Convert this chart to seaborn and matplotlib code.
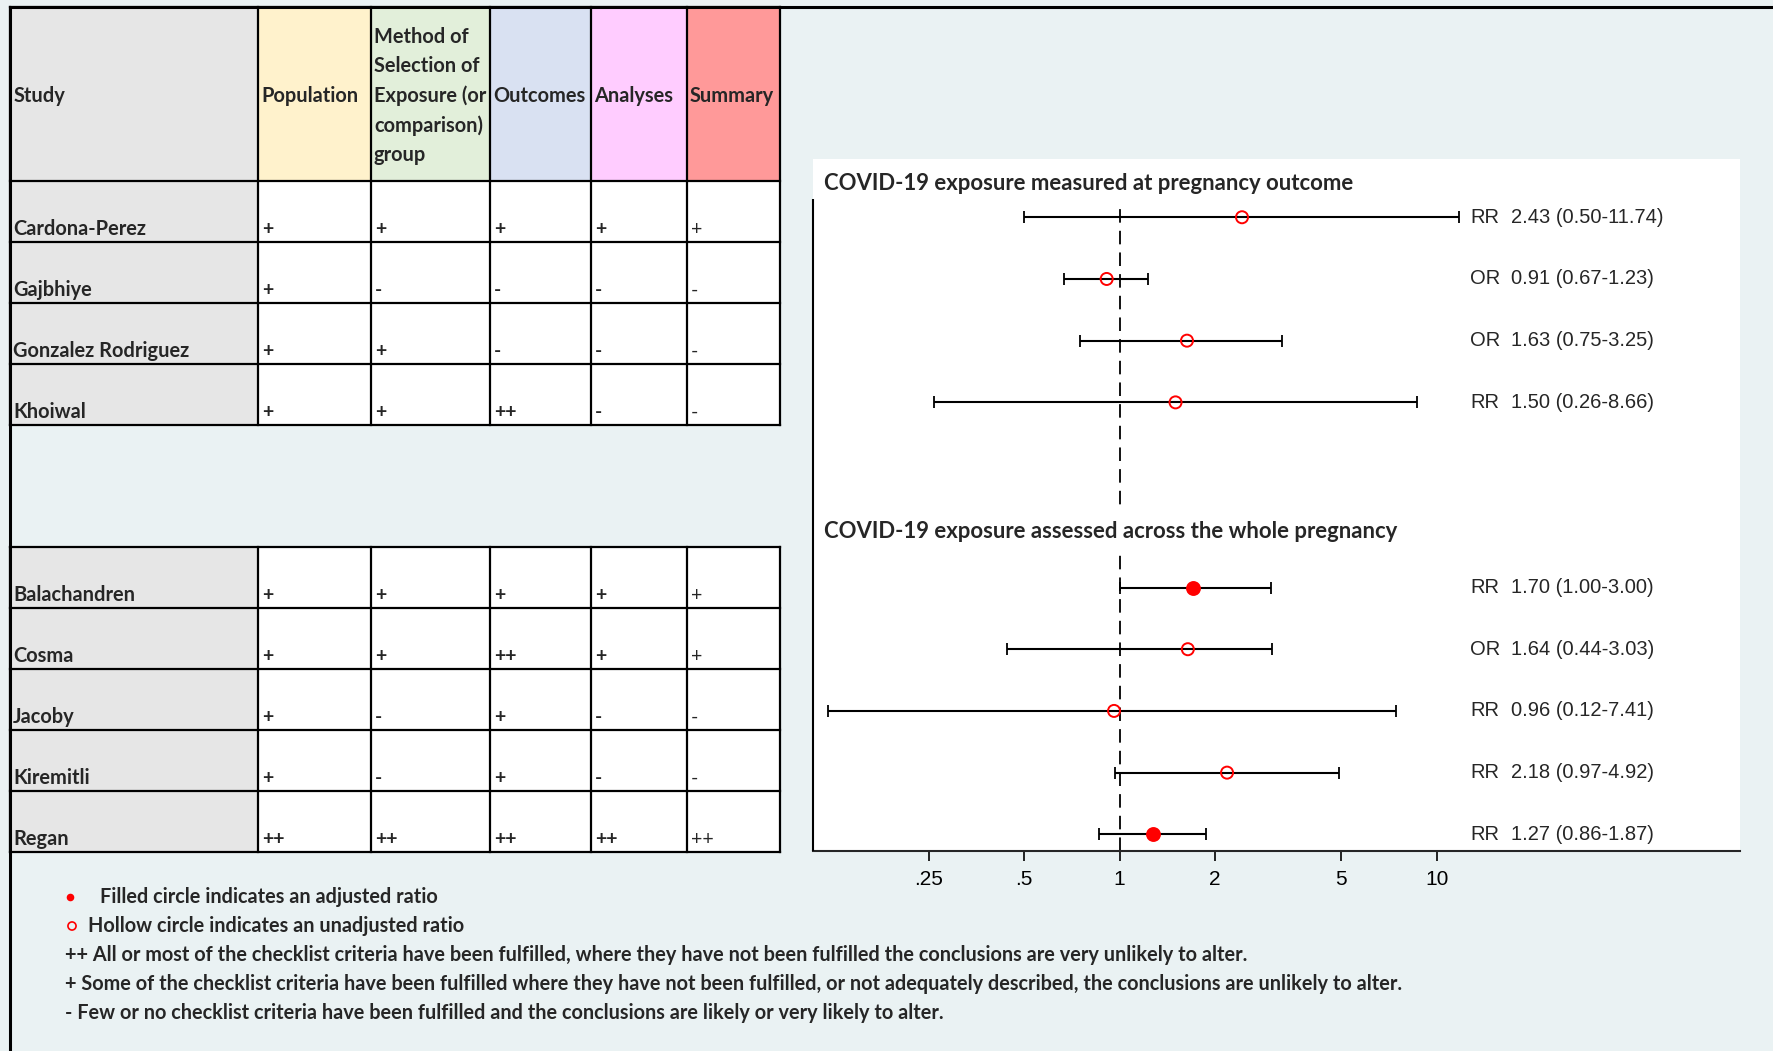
import numpy as np
import pandas as pd
import matplotlib
matplotlib.use("Agg")
import matplotlib.pyplot as plt
from matplotlib.patches import Rectangle
import seaborn as sns

# ---- quality-assessment table -------------------------------------------
studies_outcome = ["Cardona-Perez", "Gajbhiye", "Gonzalez Rodriguez", "Khoiwal"]
studies_whole = ["Balachandren", "Cosma", "Jacoby", "Kiremitli", "Regan"]
domains = ["Population",
           "Method of\nSelection of\nExposure (or\ncomparison)\ngroup",
           "Outcomes", "Analyses", "Summary"]
domain_colors = ["#FFF2CC", "#E2EFDA", "#D9E1F2", "#FFCCFF", "#FF9999"]

population = ["+", "+", "+", "+", "+", "+", "+", "+", "++"]
method     = ["+", "-", "+", "+", "+", "+", "-", "-", "++"]
outcomes   = ["+", "-", "-", "++", "+", "++", "+", "+", "++"]
analyses   = ["+", "-", "-", "-", "+", "+", "-", "-", "++"]
summary    = ["+", "-", "-", "-", "+", "+", "-", "-", "++"]

# ---- effect estimates ------------------------------------------------------
measure  = ["RR", "OR", "OR", "RR", "RR", "OR", "RR", "RR", "RR"]
estimate = [2.43, 0.91, 1.63, 1.50, 1.70, 1.64, 0.96, 2.18, 1.27]
ci_low   = [0.50, 0.67, 0.75, 0.26, 1.00, 0.44, 0.12, 0.97, 0.86]
ci_high  = [11.74, 1.23, 3.25, 8.66, 3.00, 3.03, 7.41, 4.92, 1.87]
adjusted = [False, False, False, False, True, False, False, False, True]

group_titles = ["COVID-19 exposure measured at pregnancy outcome",
                "COVID-19 exposure assessed across the whole pregnancy"]
tick_values = [0.25, 0.5, 1, 2, 5, 10]
tick_labels = [".25", ".5", "1", "2", "5", "10"]

legend_lines = [
    "++ All or most of the checklist criteria have been fulfilled, where they have not been fulfilled the conclusions are very unlikely to alter.",
    "+ Some of the checklist criteria have been fulfilled where they have not been fulfilled, or not adequately described, the conclusions are unlikely to alter.",
    "- Few or no checklist criteria have been fulfilled and the conclusions are likely or very likely to alter.",
]

sns.set_style("white")
BG = "#EAF2F3"
RED = "#FF0000"
TABLE_FONT = ["Lato", "DejaVu Sans"]
PLOT_FONT = ["Liberation Sans", "DejaVu Sans"]
plt.rcParams["font.family"] = PLOT_FONT

W, H = 1774, 1051
fig = plt.figure(figsize=(W / 100, H / 100), dpi=100, facecolor=BG)

# full-figure pixel canvas for the table, frame and key
canvas = fig.add_axes([0, 0, 1, 1])
canvas.set_xlim(0, W)
canvas.set_ylim(H, 0)
canvas.axis("off")
canvas.set_facecolor(BG)

# frame along top and left edges
canvas.plot([10, W], [7, 7], color="black", lw=2.2, solid_capstyle="butt")
canvas.plot([10, 10], [7, H], color="black", lw=2.2, solid_capstyle="butt")

col_edges = [10, 258, 371, 490, 591, 687, 780]
t1_edges = [7, 181, 242, 303, 364, 425]
t2_edges = [547, 608, 669, 730, 791, 852]
ratings = list(zip(population, method, outcomes, analyses, summary))
GRAY = "#E6E6E6"
FS_TAB = 14.4


def draw_table(row_edges, names, rows, header):
    top = row_edges[0]
    body_edges = row_edges
    if header:
        hb = row_edges[1]
        canvas.add_patch(Rectangle((col_edges[0], top), col_edges[1] - col_edges[0],
                                   hb - top, facecolor=GRAY, lw=0))
        canvas.text(col_edges[0] + 4, (top + hb) / 2 + 2, "Study", family=TABLE_FONT,
                    weight="bold", fontsize=FS_TAB, va="center", ha="left")
        for j, (lab, colr) in enumerate(zip(domains, domain_colors)):
            x0, x1 = col_edges[j + 1], col_edges[j + 2]
            canvas.add_patch(Rectangle((x0, top), x1 - x0, hb - top, facecolor=colr, lw=0))
            canvas.text(x0 + 3, (top + hb) / 2 + 2, lab, family=TABLE_FONT, weight="bold",
                        fontsize=FS_TAB, va="center", ha="left", linespacing=1.58)
        body_edges = row_edges[1:]
    for i, (name, vals) in enumerate(zip(names, rows)):
        y0, y1 = body_edges[i], body_edges[i + 1]
        canvas.add_patch(Rectangle((col_edges[0], y0), col_edges[1] - col_edges[0],
                                   y1 - y0, facecolor=GRAY, lw=0))
        canvas.add_patch(Rectangle((col_edges[1], y0), col_edges[-1] - col_edges[1],
                                   y1 - y0, facecolor="white", lw=0))
        canvas.text(col_edges[0] + 3, y1 - 7, name, family=TABLE_FONT, weight="bold",
                    fontsize=FS_TAB, va="baseline", ha="left")
        for j, v in enumerate(vals):
            canvas.text(col_edges[j + 1] + 4, y1 - 7, v, family=TABLE_FONT,
                        weight="normal" if j == 4 else "bold",
                        fontsize=14, va="baseline", ha="left")
    for y in row_edges:
        canvas.plot([col_edges[0], col_edges[-1]], [y, y], color="black", lw=1.6,
                    solid_capstyle="projecting")
    for x in col_edges:
        canvas.plot([x, x], [row_edges[0], row_edges[-1]], color="black", lw=1.6,
                    solid_capstyle="projecting")


n1 = len(studies_outcome)
draw_table(t1_edges, studies_outcome, ratings[:n1], header=True)
draw_table(t2_edges, studies_whole, ratings[n1:], header=False)

# key below the table
FS_KEY = 14.3
canvas.scatter([70], [897], s=30, color=RED, lw=0)
canvas.text(100, 897, "Filled circle indicates an adjusted ratio", family=TABLE_FONT,
            weight="bold", fontsize=FS_KEY, va="center", ha="left")
canvas.scatter([72], [926], s=34, facecolor="none", edgecolor=RED, lw=1.2)
canvas.text(88, 926, "Hollow circle indicates an unadjusted ratio", family=TABLE_FONT,
            weight="bold", fontsize=FS_KEY, va="center", ha="left")
for k, line in enumerate(legend_lines):
    canvas.text(65, 955 + 29 * k, line, family=TABLE_FONT, weight="bold",
                fontsize=FS_KEY, va="center", ha="left")

# ---- forest plot ---------------------------------------------------------
n_total = len(estimate)
row_pos = [i if i < n1 else i + 2 for i in range(n_total)]
df = pd.DataFrame({
    "measure": measure, "estimate": estimate, "low": ci_low, "high": ci_high,
    "adjusted": adjusted, "row": row_pos,
})

L, R, T, B = 813, 1740, 159, 851
ax = fig.add_axes([L / W, 1 - B / H, (R - L) / W, (B - T) / H])
ax.set_facecolor("white")
ax.set_xscale("log")
ax.set_xlim(0.108, 90.2)
ax.set_ylim(10.27, -0.944)

ax.errorbar(df["estimate"], df["row"],
            xerr=[df["estimate"] - df["low"], df["high"] - df["estimate"]],
            fmt="none", ecolor="black", elinewidth=1.5, capsize=4, capthick=1.3, zorder=2)
sns.scatterplot(data=df[~df["adjusted"]], x="estimate", y="row", ax=ax, s=75,
                facecolor="none", edgecolor=RED, linewidth=1.4, zorder=3, legend=False)
sns.scatterplot(data=df[df["adjusted"]], x="estimate", y="row", ax=ax, s=115,
                color=RED, linewidth=0, zorder=3, legend=False)

# null line
ax.plot([1, 1], [10.27, -0.2], color="black", lw=1.3, dashes=(7.5, 4.5), zorder=1)

for _, r in df.iterrows():
    ax.text(12.75, r["row"], r["measure"], fontsize=14.5, va="center", ha="left")
    ax.text(17.1, r["row"], f"{r['estimate']:.2f} ({r['low']:.2f}-{r['high']:.2f})",
            fontsize=14.5, va="center", ha="left")

FS_TITLE = 15.9
ax.text(0.012, -0.55, group_titles[0], transform=ax.get_yaxis_transform(),
        family=TABLE_FONT, weight="bold", fontsize=FS_TITLE, va="center", ha="left")
ax.text(0.012, 5.1, group_titles[1], transform=ax.get_yaxis_transform(),
        family=TABLE_FONT, weight="bold", fontsize=FS_TITLE, va="center", ha="left",
        bbox=dict(facecolor="white", edgecolor="none", pad=9), zorder=4)

for s in ["top", "right", "left"]:
    ax.spines[s].set_visible(False)
ax.spines["bottom"].set_linewidth(1.5)
ax.plot([0, 0], [0, (B - 199) / (B - T)], transform=ax.transAxes, color="black",
        lw=1.5, clip_on=False, solid_capstyle="butt", zorder=6)

ax.set_xticks(tick_values)
ax.set_xticklabels(tick_labels)
ax.xaxis.set_minor_locator(matplotlib.ticker.NullLocator())
ax.tick_params(axis="x", direction="out", length=7, width=1.2, pad=7, labelsize=15,
               bottom=True, colors="black")
ax.set_yticks([])
ax.set_xlabel("")
ax.set_ylabel("")

fig.savefig("out.png", dpi=100, facecolor=BG)
